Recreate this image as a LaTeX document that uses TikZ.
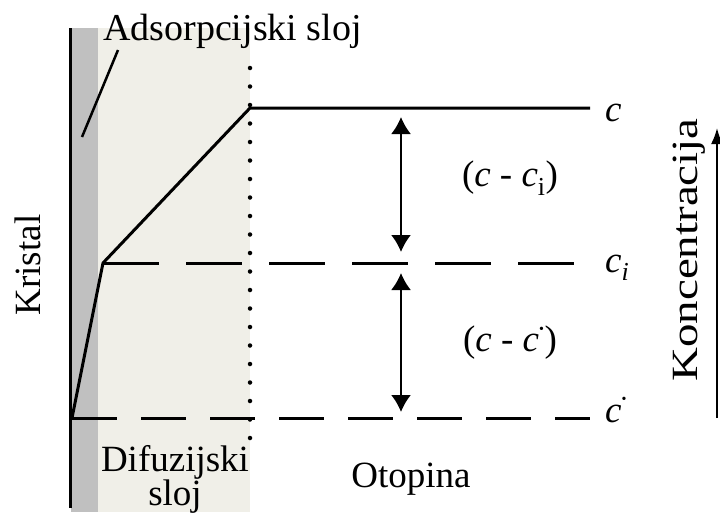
\documentclass[tikz,border=0pt]{standalone}
\usepackage{fontspec}
\setmainfont{Liberation Serif}
\usetikzlibrary{arrows.meta}
\definecolor{beigebg}{RGB}{240,239,232}
\definecolor{graystrip}{RGB}{192,192,192}
\begin{document}
\begin{tikzpicture}[x=1pt,y=-1pt, line join=round,
  solidline/.style={line width=3pt},
  dashA/.style={line width=3pt, dash pattern=on 56pt off 27pt},
  dashB/.style={line width=3pt, dash pattern=on 45pt off 24pt},
  dotline/.style={line width=4.5pt, line cap=round, dash pattern=on 0pt off 18.5pt},
  dimarrow/.style={line width=2pt, {Latex[length=17pt,width=20pt]}-{Latex[length=17pt,width=20pt]}},
  lbl/.style={font=\fontsize{37}{40}\selectfont, inner sep=0pt}]
\useasboundingbox (0,0) rectangle (720,514);
% regions
\fill[beigebg] (98,28) rectangle (250,512);
\fill[graystrip] (71,28) rectangle (98,512);
\draw[line width=3pt] (70,28) -- (70,508);
% coordinates
\coordinate (p0) at (72,418);
\coordinate (p1) at (103,263);
\coordinate (p2) at (250,108);
\coordinate (cend) at (590,108);
\coordinate (ciend) at (590,263);
\coordinate (csend) at (590,418);
\coordinate (dtop) at (250,68);
\coordinate (dbot) at (250,438);
\coordinate (pa) at (118,50);
\coordinate (pb) at (82,137);
\coordinate (a1) at (401,117);
\coordinate (a2) at (401,252);
\coordinate (a3) at (401,273);
\coordinate (a4) at (401,412);
\coordinate (k1) at (717,418);
\coordinate (k2) at (717,128);
% lines
\draw[dotline] (dtop) -- (dbot);
\draw[solidline] (p0) -- (p1) -- (p2) -- (cend);
\draw[dashA] (p1) -- (ciend);
\draw[dashB] (p0) -- (csend);
\draw[line width=2.5pt] (pa) -- (pb);
\draw[dimarrow] (a1) -- (a2);
\draw[dimarrow] (a3) -- (a4);
\draw[line width=2pt, -{Latex[length=16pt,width=12pt]}] (k1) -- (k2);
% labels
\node[lbl, font=\fontsize{38}{40}\selectfont, anchor=base west] (ads) at (103,40) {Adsorpcijski sloj};
\node[lbl, rotate=90, anchor=base] (kris) at (40,265) {Kristal};
\node[lbl, rotate=90, anchor=base] (konc) at (697,250) {\scalebox{1.27}[1]{Koncentracija}};
\node[lbl, anchor=base, align=center] (dif) at (175,505) {Difuzijski\\[-6pt]sloj};
\node[lbl, anchor=base] (otop) at (411,487) {Otopina};
\node[lbl] (m1) at (510,178) {(\textit{c} - \textit{c}\textsubscript{i})};
\node[lbl] (m2) at (510,343) {(\textit{c} - \textit{c}\textsuperscript{\fontsize{14}{14}\selectfont\raisebox{9pt}{•}})};
\node[lbl, anchor=base west] (lc) at (605,121) {\textit{c}};
\node[lbl, anchor=base west] (lci) at (605,272) {\textit{c}\textsubscript{\textit{i}}};
\node[lbl, anchor=base west] (lcs) at (605,422) {\textit{c}\textsuperscript{\fontsize{14}{14}\selectfont\raisebox{9pt}{•}}};
\end{tikzpicture}
\end{document}
